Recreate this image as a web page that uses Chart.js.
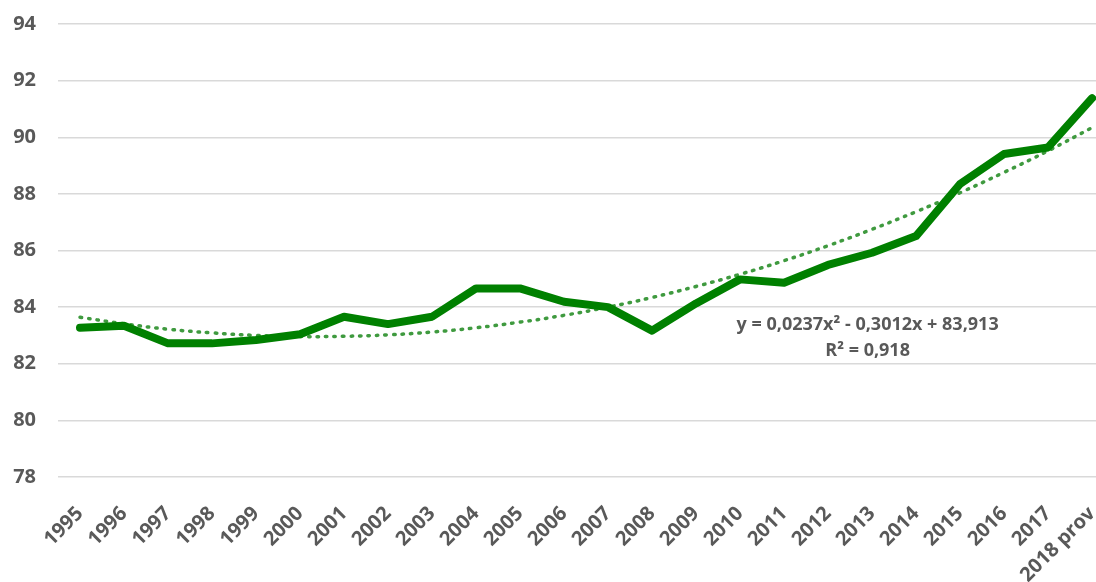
<!DOCTYPE html>
<html>
<head>
<meta charset="utf-8">
<script src="https://cdn.jsdelivr.net/npm/chart.js@4"></script>
<style>
  html, body { margin: 0; padding: 0; background: #fff; }
  #wrap { position: relative; width: 1096px; height: 582px; }
</style>
</head>
<body>
<div id="wrap"><canvas id="myChart"></canvas></div>
<script>
const years = ['1995','1996','1997','1998','1999','2000','2001','2002','2003','2004','2005','2006',
  '2007','2008','2009','2010','2011','2012','2013','2014','2015','2016','2017','2018 prov'];
const values = [83.27, 83.34, 82.72, 82.72, 82.84, 83.04, 83.66, 83.40, 83.66, 84.66, 84.66, 84.19,
  84.00, 83.17, 84.13, 84.98, 84.86, 85.49, 85.92, 86.51, 88.35, 89.41, 89.64, 91.38];
// trend curve, as drawn in the picture
const trend = [83.64, 83.41, 83.22, 83.09, 83.00, 82.96, 82.97, 83.02, 83.12, 83.27, 83.47, 83.71,
  84.00, 84.34, 84.73, 85.16, 85.64, 86.17, 86.75, 87.37, 88.04, 88.76, 89.52, 90.34];
const yTicks = [78, 80, 82, 84, 86, 88, 90, 92, 94];
const eqText = 'y = 0,0237x² - 0,3012x + 83,913';
const r2Text = 'R² = 0,918';

const grey = '#595959';
const fontFam = '"Open Sans", "Liberation Sans", sans-serif';

const equationLabel = {
  id: 'equationLabel',
  afterDatasetsDraw(chart) {
    const ctx = chart.ctx;
    const x = chart.scales.x, y = chart.scales.y;
    const cx = x.getPixelForValue(17.9);
    ctx.save();
    ctx.fillStyle = grey;
    ctx.font = 'bold 18px ' + fontFam;
    ctx.textAlign = 'center';
    ctx.textBaseline = 'middle';
    ctx.fillText(eqText, cx, y.getPixelForValue(83.37));
    ctx.fillText(r2Text, cx, y.getPixelForValue(82.45));
    ctx.restore();
  }
};

const ctx = document.getElementById('myChart').getContext('2d');
const myChart = new Chart(ctx, {
  type: 'line',
  data: {
    datasets: [
      {
        label: 'Index',
        data: values.map((v, i) => ({ x: i, y: v })),
        borderColor: '#008000',
        borderWidth: 8,
        pointRadius: 0,
        borderJoinStyle: 'round',
        borderCapStyle: 'round',
        tension: 0,
        order: 1
      },
      {
        label: 'Trend',
        data: trend.map((v, i) => ({ x: i, y: v })),
        borderColor: '#3f9a3f',
        borderWidth: 3.5,
        borderDash: [1.5, 7],
        borderCapStyle: 'round',
        pointRadius: 0,
        tension: 0.4,
        order: 2
      }
    ]
  },
  options: {
    responsive: true,
    maintainAspectRatio: false,
    animation: false,
    layout: { padding: { top: 24, right: 0, left: 0, bottom: 0 } },
    plugins: {
      legend: { display: false },
      tooltip: { enabled: false }
    },
    scales: {
      x: {
        type: 'linear',
        min: -0.5,
        max: 23.09,
        grid: { display: false },
        border: { display: false },
        afterBuildTicks: s => { s.ticks = years.map((_, i) => ({ value: i })); },
        afterFit: s => { s.height = 105; s.paddingRight = 0; s.paddingLeft = 0; },
        ticks: {
          autoSkip: false,
          minRotation: 45,
          maxRotation: 45,
          padding: 17,
          color: grey,
          font: { family: fontFam, size: 20, weight: 'bold' },
          callback: v => years[v]
        }
      },
      y: {
        min: 78,
        max: 94,
        afterBuildTicks: s => { s.ticks = yTicks.map(v => ({ value: v })); },
        afterFit: s => { s.width = 58; s.paddingTop = 0; s.paddingBottom = 0; },
        grid: { color: '#d9d9d9', lineWidth: 1.5, drawTicks: false },
        border: { display: false },
        ticks: {
          padding: 22,
          color: grey,
          font: { family: fontFam, size: 20, weight: 'bold' }
        }
      }
    }
  },
  plugins: [equationLabel]
});
</script>
</body>
</html>
